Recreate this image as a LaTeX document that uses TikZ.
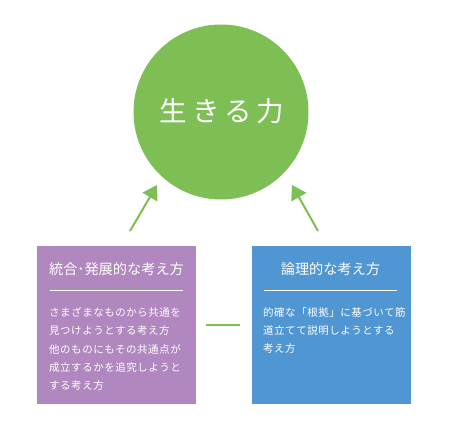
\documentclass[tikz,border=0pt]{standalone}
\usepackage{fontspec}
\newfontfamily\cjk{Noto Sans CJK JP}
\usetikzlibrary{arrows.meta}
\definecolor{lgreen}{RGB}{125,190,85}
\definecolor{lpurple}{RGB}{176,135,190}
\definecolor{lblue}{RGB}{80,150,211}
\tikzset{
  card/.style={inner sep=0pt, minimum width=159pt, minimum height=158pt, anchor=north west},
  ttl/.style={text=white, inner sep=0pt, font=\cjk\fontsize{14.2}{15}\selectfont},
  bodytxt/.style={text=white, inner sep=0pt, align=left, anchor=west, font=\cjk\addfontfeatures{LetterSpace=5}\fontsize{10.5}{17.8}\selectfont},
  sep/.style={white, line width=0.8pt},
  conn/.style={lgreen, line width=2pt},
  arr/.style={conn, -{Triangle[length=14pt,width=17pt]}}
}
\begin{document}
\begin{tikzpicture}[x=1pt,y=-1pt]
\useasboundingbox (0,0) rectangle (450,430);
\node[circle, fill=lgreen, minimum size=175pt, inner sep=0pt] (c) at (221,112) {};
\node[text=white, inner sep=0pt, font=\cjk\addfontfeatures{LetterSpace=18}\fontsize{27.5}{28}\selectfont] (ct) at (222,111.5) {生きる力};
% cards
\node[card, fill=lpurple] (pbox) at (37,246) {};
\node[card, fill=lblue] (bbox) at (252,246) {};
\node[ttl] (pt) at (116.5,269) {統合･発展的な考え方};
\node[ttl] (bt) at (330.5,269) {論理的な考え方};
\coordinate (ps1) at (50,290); \coordinate (ps2) at (183,290);
\coordinate (bs1) at (264,290); \coordinate (bs2) at (397,290);
\draw[sep] (ps1) -- (ps2);
\draw[sep] (bs1) -- (bs2);
\node[bodytxt] (p1) at (49,321.5) {さまざまなものから共通を\\見つけようとする考え方};
\node[bodytxt] (p2) at (49,367.5) {他のものにもその共通点が\\成立するかを追究しようと\\する考え方};
\node[bodytxt] (b1) at (263,330.5) {的確な「根拠」に基づいて筋\\道立てて説明しようとする\\考え方};
% arrows
\coordinate (la) at (130,231); \coordinate (lt) at (157,185);
\coordinate (ra) at (318,231); \coordinate (rt) at (292,185);
\draw[arr] (la) -- (lt);
\draw[arr] (ra) -- (rt);
\draw[conn] ([xshift=10pt]pbox.east) -- ([xshift=-12pt]bbox.west);
\end{tikzpicture}
\end{document}
